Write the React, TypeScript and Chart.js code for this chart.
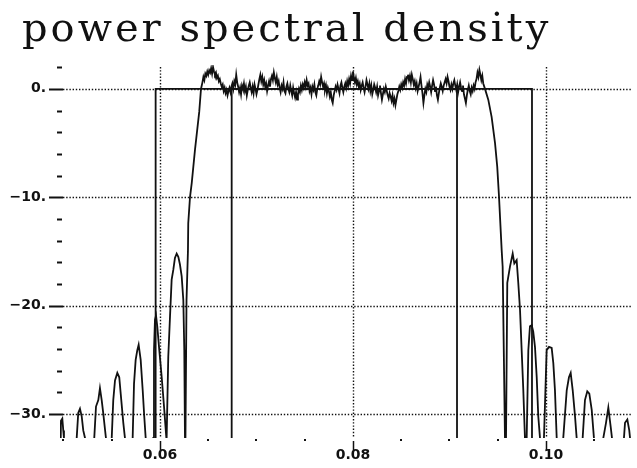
import { useEffect, useRef } from "react";
import { Chart, registerables } from "chart.js";

Chart.register(...registerables);

const TITLE = "power spectral density";

const X_MIN = 0.04964;
const X_MAX = 0.10881;
const Y_MIN = -32.2;
const Y_MAX = 2.2;

const X_MAJOR = [0.06, 0.08, 0.1];
const X_LABELS = ["0.06", "0.08", "0.10"];
const X_MINOR = [0.05, 0.055, 0.065, 0.07, 0.075, 0.085, 0.09, 0.095, 0.105];
const Y_MAJOR = [0, -10, -20, -30];
const Y_LABELS = ["0.", "\u221210.", "\u221220.", "\u221230."];
const Y_MINOR = [2, -2, -4, -6, -8, -12, -14, -16, -18, -22, -24, -26, -28];

// left side lobes + rising edge (frequency, dB)
const LEFT_FREQ = [
  0.0496, 0.04974, 0.04988, 0.04998, 0.05005, 0.0506,
  0.05137, 0.05153, 0.05171, 0.05189, 0.05205, 0.05223, 0.0527,
  0.05319, 0.05337, 0.05361, 0.05378, 0.05396, 0.05412, 0.0544, 0.0547,
  0.055, 0.05516, 0.05534, 0.05558, 0.05578, 0.05596, 0.0562, 0.05637, 0.0568,
  0.05717, 0.05731, 0.05748, 0.05765, 0.05779, 0.058, 0.05821, 0.05837, 0.05852, 0.0589,
  0.05931, 0.05938, 0.05948, 0.05959, 0.05972, 0.05993, 0.06018, 0.06042, 0.06066, 0.06068,
  0.0607, 0.06086, 0.06104, 0.06121, 0.06138, 0.06155, 0.06173, 0.0619, 0.06207, 0.06225, 0.06242, 0.06252, 0.06259, 0.06262,
  0.06264, 0.06275, 0.0629, 0.06293, 0.06311, 0.06329, 0.06363, 0.06407, 0.06425,
];
const LEFT_DB = [
  -40, -30.6, -30.4, -31.5, -32.2, -40,
  -32.2, -29.9, -29.5, -30.2, -31.5, -32.2, -40,
  -32.2, -29.3, -28.7, -27.6, -28.7, -29.9, -32.2, -40,
  -32.2, -28.7, -26.9, -26.2, -26.6, -28.4, -30.8, -32.2, -40,
  -32.2, -27.2, -25.0, -24.1, -23.6, -25.0, -27.8, -30.2, -32.2, -40,
  -32.2, -24.1, -21.3, -20.9, -21.9, -24.1, -26.6, -29.3, -32.2, -38,
  -32.2, -24.7, -21.0, -17.6, -16.7, -15.6, -15.2, -15.5, -16.2, -17.3, -19.5, -24.1, -32.2, -38,
  -32.2, -19.5, -14.9, -12.4, -10.0, -8.7, -5.6, -2.1, 0.0,
];

// pass band, sampled every PASS_STEP from PASS_START
const PASS_START = 0.0643;
const PASS_STEP = 0.0001;
const PASS_DB = [
  0.2, 0.6, 1.1, 0.8, 1.4, 1.2, 1.6, 1.3, 1.7, 1.5,
  1.9, 1.4, 2.0, 1.6, 1.3, 1.5, 1.0, 1.2, 0.7, 0.9,
  0.5, 0.2, 0.4, -0.2, 0.1, -0.4, -0.1, -0.6, -0.2, 0.1,
  -0.3, 0.2, 0.5, 0.0, 0.7, 0.4, 1.3, 0.6, 0.2, -0.3,
  0.1, -0.5, 0.3, 0.0, 0.5, -0.2, 0.2, -0.6, -0.1, 0.3,
  0.6, 0.1, -0.3, 0.2, -0.4, 0.4, 0.0, -0.5, -0.1, 0.4,
  0.9, 1.3, 0.7, 1.1, 0.4, 0.8, 0.2, 0.5, -0.2, 0.3,
  0.7, 0.2, 0.9, 1.2, 0.8, 1.5, 1.0, 0.6, 1.1, 0.4,
  0.7, 0.1, -0.3, 0.3, 0.0, 0.6, -0.2, -0.4, 0.2, 0.5,
  0.0, -0.3, 0.3, -0.2, -0.6, 0.1, -0.4, -0.8, -0.3, -1.0,
  -0.5, 0.0, -0.3, 0.3, -0.1, 0.4, 0.1, 0.6, 0.2, 0.8,
  0.3, 0.5, -0.2, 0.1, -0.5, 0.2, -0.1, 0.4, -0.3, -0.6,
  0.0, 0.3, 0.7, 0.4, 1.1, 0.6, 0.2, 0.5, -0.1, 0.3,
  -0.4, 0.1, -0.2, -0.7, -0.3, -1.0, -1.3, -0.6, -0.2, 0.2,
  -0.1, 0.4, 0.0, -0.4, 0.3, 0.6, 0.1, -0.3, 0.2, 0.5,
  0.1, 0.7, 0.3, 0.9, 0.5, 1.2, 0.8, 1.6, 1.0, 0.6,
  1.0, 0.4, 0.7, 0.2, 0.5, -0.1, 0.3, 0.6, 0.1, -0.3,
  0.2, 0.8, 0.4, 0.0, 0.5, -0.2, 0.3, -0.5, -0.1, 0.4,
  0.1, -0.3, 0.2, -0.6, -0.2, 0.3, -0.4, -1.0, -0.5, 0.0,
  -0.3, 0.2, -0.2, -0.6, -0.9, -0.4, -0.7, -1.1, -0.6, -1.3,
  -0.9, -1.5, -1.0, -0.5, -0.2, 0.2, -0.1, 0.4, 0.1, 0.6,
  0.3, 0.9, 0.5, 1.1, 1.3, 0.8, 1.2, 0.6, 1.3, 0.9,
  0.4, 0.7, 0.1, 0.5, -0.2, 0.2, 0.6, 1.1, 0.3, -0.4,
  -1.3, -0.6, 0.0, -0.3, 0.4, 0.1, 0.6, 0.2, -0.3, 0.3,
  0.8, 0.4, -0.2, 0.2, -0.6, -1.0, -0.4, 0.1, 0.5, 0.2,
  -0.2, 0.3, 0.6, 0.9, 0.5, 1.1, 0.7, 0.2, -0.1, 0.4,
  0.0, 0.5, 0.8, 0.3, -0.1, 0.4, -0.3, 0.2, 0.6, 0.1,
  -0.2, 0.3, -0.5, -0.9, -1.3, -0.6, -0.1, 0.3, -0.2, -0.5,
  0.1, -0.2, 0.3, 0.0, 0.6, 0.9, 1.5, 1.1, 1.75, 1.3,
  0.8, 1.2, 0.5,
];

// falling edge + right side lobes
const RIGHT_FREQ = [
  0.09368, 0.09402, 0.09437, 0.09472, 0.09495, 0.09513, 0.09541, 0.09551, 0.09575, 0.0958,
  0.09586, 0.09599, 0.09627, 0.09655, 0.09672, 0.09696, 0.09713, 0.09731, 0.09748, 0.09765, 0.09782, 0.09791,
  0.098, 0.09817, 0.09834, 0.09852, 0.09868, 0.09886, 0.09904, 0.0992, 0.09938, 0.0996,
  0.09979, 0.10007, 0.10031, 0.10059, 0.10076, 0.10093, 0.10111, 0.10145,
  0.10179, 0.10215, 0.10238, 0.10256, 0.10277, 0.10301, 0.10318, 0.1035,
  0.1038, 0.10404, 0.10428, 0.10449, 0.10474, 0.10497, 0.10545,
  0.10594, 0.10622, 0.10646, 0.10671, 0.10684, 0.10745,
  0.10808, 0.10819, 0.10843, 0.10863, 0.10871, 0.1089,
];
const RIGHT_DB = [
  0.0, -1.0, -2.6, -5.0, -7.2, -9.9, -14.9, -16.4, -32.2, -38,
  -32.2, -17.9, -16.4, -15.2, -16.1, -15.8, -17.9, -20.4, -24.1, -27.8, -32.2, -38,
  -32.2, -24.1, -21.9, -21.8, -22.4, -23.8, -26.6, -30.2, -32.2, -40,
  -32.2, -24.1, -23.8, -23.9, -25.3, -27.8, -32.2, -40,
  -32.2, -27.8, -26.6, -26.2, -27.8, -30.2, -32.2, -40,
  -32.2, -28.7, -27.9, -28.1, -29.6, -32.2, -40,
  -32.2, -30.8, -29.4, -31.2, -32.2, -40,
  -32.2, -30.8, -30.5, -31.5, -32.2, -40,
];

// filter masks
const OUTER_MASK_FREQ = [0.05955, 0.05955, 0.09855, 0.09855];
const OUTER_MASK_DB = [-32.2, 0, 0, -32.2];
const INNER_MASK_FREQ = [0.06743, 0.06743, 0.09078, 0.09078];
const INNER_MASK_DB = [-32.2, 0, 0, -32.2];

const INK = "#111";

function buildPsd() {
  const pts: { x: number; y: number }[] = [];
  LEFT_FREQ.forEach((f, i) => pts.push({ x: f, y: LEFT_DB[i] }));
  PASS_DB.forEach((d, i) => pts.push({ x: PASS_START + i * PASS_STEP, y: d }));
  RIGHT_FREQ.forEach((f, i) => pts.push({ x: f, y: RIGHT_DB[i] }));
  return pts;
}

const decorPlugin = {
  id: "psdDecor",
  beforeDatasetsDraw(chart: any) {
    const { ctx, chartArea: a, scales } = chart;
    const x = scales.x;
    const y = scales.y;
    ctx.save();
    ctx.strokeStyle = "#111";
    ctx.lineWidth = 1.4;
    ctx.setLineDash([1.4, 1.8]);
    for (const v of Y_MAJOR) {
      const py = Math.round(y.getPixelForValue(v)) + 0.5;
      ctx.beginPath();
      ctx.moveTo(a.left + 3, py);
      ctx.lineTo(a.right, py);
      ctx.stroke();
    }
    for (const v of X_MAJOR) {
      const px = Math.round(x.getPixelForValue(v)) + 0.5;
      ctx.beginPath();
      ctx.moveTo(px, a.top + 2);
      ctx.lineTo(px, a.bottom);
      ctx.stroke();
    }
    ctx.setLineDash([]);
    ctx.strokeStyle = INK;
    ctx.fillStyle = INK;
    ctx.lineWidth = 2;
    for (const v of Y_MAJOR) {
      const py = Math.round(y.getPixelForValue(v)) + 0.5;
      ctx.beginPath();
      ctx.moveTo(a.left - 11, py);
      ctx.lineTo(a.left + 3, py);
      ctx.stroke();
    }
    for (const v of Y_MINOR) {
      const py = Math.round(y.getPixelForValue(v)) + 0.5;
      ctx.beginPath();
      ctx.moveTo(a.left - 3, py);
      ctx.lineTo(a.left + 2, py);
      ctx.stroke();
    }
    for (const v of X_MINOR) {
      const px = Math.round(x.getPixelForValue(v));
      ctx.fillRect(px - 1, a.bottom + 1, 2, 2);
    }
    ctx.lineWidth = 1.5;
    for (const v of X_MAJOR) {
      const px = Math.round(x.getPixelForValue(v)) + 0.5;
      ctx.beginPath();
      ctx.moveTo(px, a.bottom + 3);
      ctx.lineTo(px, a.bottom + 12);
      ctx.stroke();
    }
    ctx.restore();
  },
  afterDraw(chart: any) {
    const { ctx } = chart;
    ctx.save();
    ctx.fillStyle = INK;
    ctx.font = '40px "DejaVu Serif"';
    (ctx as any).letterSpacing = "3px";
    ctx.textBaseline = "alphabetic";
    ctx.textAlign = "left";
    ctx.fillText(TITLE, 22, 41);
    ctx.restore();
  },
};

export default function App() {
  const ref = useRef<HTMLCanvasElement | null>(null);

  useEffect(() => {
    if (!ref.current) return;
    const lineDs = (data: { x: number; y: number }[], w: number) => ({
      data,
      showLine: true,
      borderColor: INK,
      backgroundColor: INK,
      borderWidth: w,
      pointRadius: 0,
      tension: 0,
      fill: false,
    });
    const chart = new Chart(ref.current, {
      type: "scatter",
      data: {
        datasets: [
          lineDs(buildPsd(), 1.8),
          lineDs(OUTER_MASK_FREQ.map((f, i) => ({ x: f, y: OUTER_MASK_DB[i] })), 1.8),
          lineDs(INNER_MASK_FREQ.map((f, i) => ({ x: f, y: INNER_MASK_DB[i] })), 1.8),
        ],
      },
      options: {
        responsive: false,
        animation: false,
        devicePixelRatio: 1,
        events: [],
        layout: { padding: { top: 65, right: 6, left: 0, bottom: 0 } },
        plugins: {
          legend: { display: false },
          tooltip: { enabled: false },
          title: { display: false },
        },
        scales: {
          x: {
            type: "linear",
            min: X_MIN,
            max: X_MAX,
            afterFit: (s: any) => {
              s.height = 30;
            },
            afterBuildTicks: (s: any) => {
              s.ticks = X_MAJOR.map((v) => ({ value: v }));
            },
            grid: { display: false, drawTicks: false, tickLength: 0 },
            border: { display: false },
            ticks: {
              callback: (_v: any, i: number) => X_LABELS[i],
              autoSkip: false,
              maxRotation: 0,
              padding: 9,
              color: INK,
              font: { family: "DejaVu Sans", weight: "bold", size: 14 },
            },
          },
          y: {
            type: "linear",
            min: Y_MIN,
            max: Y_MAX,
            afterFit: (s: any) => {
              s.width = 60;
            },
            afterBuildTicks: (s: any) => {
              s.ticks = Y_MAJOR.map((v) => ({ value: v }));
            },
            grid: { display: false, drawTicks: false, tickLength: 0 },
            border: { display: false },
            ticks: {
              callback: (_v: any, i: number) => Y_LABELS[i],
              autoSkip: false,
              padding: 14,
              color: INK,
              font: { family: "DejaVu Sans", weight: "bold", size: 14 },
            },
          },
        },
      } as any,
      plugins: [decorPlugin],
    });
    return () => chart.destroy();
  }, []);

  return (
    <div style={{ position: "absolute", left: 0, top: 0, width: 637, height: 468, background: "#fff" }}>
      <canvas ref={ref} width={637} height={468} style={{ display: "block" }} />
    </div>
  );
}
